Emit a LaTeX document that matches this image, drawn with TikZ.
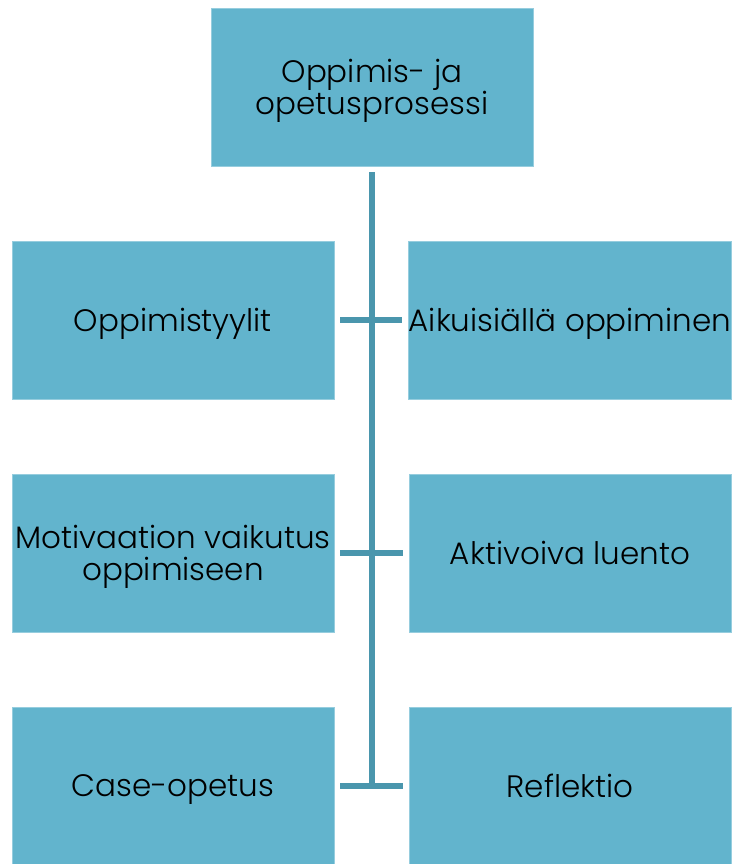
\documentclass[tikz,border=0pt]{standalone}
\usepackage{fontspec}
\setmainfont{Poppins}[UprightFont=* Light]
\definecolor{boxfill}{RGB}{98,180,205}
\definecolor{boxedge}{RGB}{150,205,222}
\definecolor{linkline}{RGB}{74,150,173}
\tikzset{
  topic/.style={rectangle, fill=boxfill, draw=boxedge, line width=0.8pt,
    minimum width=322pt, minimum height=158pt, inner sep=0pt,
    text depth=0pt,
    align=center, font=\fontsize{31}{32}\selectfont},
  link/.style={draw=linkline, line width=5.5pt}
}
\begin{document}
\begin{tikzpicture}[x=1pt, y=-1pt]
  \useasboundingbox (0,0) rectangle (736,864);
  % root and the six topic boxes
  \node[topic] (root) at (372,87) {Oppimis- ja\\opetusprosessi};
  \node[topic] (l1) at (173,320) {Oppimistyylit};
  \node[topic] (r1) at (570,320) {Aikuisiällä oppiminen};
  \node[topic] (l2) at (173,553) {Motivaation vaikutus\\oppimiseen};
  \node[topic] (r2) at (570,553) {Aktivoiva luento};
  \node[topic] (l3) at (173,786) {Case-opetus};
  \node[topic] (r3) at (570,786) {Reflektio};
  % trunk and branches
  \coordinate (t0) at (372,172);
  \coordinate (t3) at (372,786);
  \draw[link] (t0) -- (t3);
  \draw[link] ([xshift=6pt]l1.east) -- ([xshift=-6pt]r1.west);
  \draw[link] ([xshift=6pt]l2.east) -- ([xshift=-6pt]r2.west);
  \draw[link] ([xshift=6pt]l3.east) -- ([xshift=-6pt]r3.west);
\end{tikzpicture}
\end{document}
